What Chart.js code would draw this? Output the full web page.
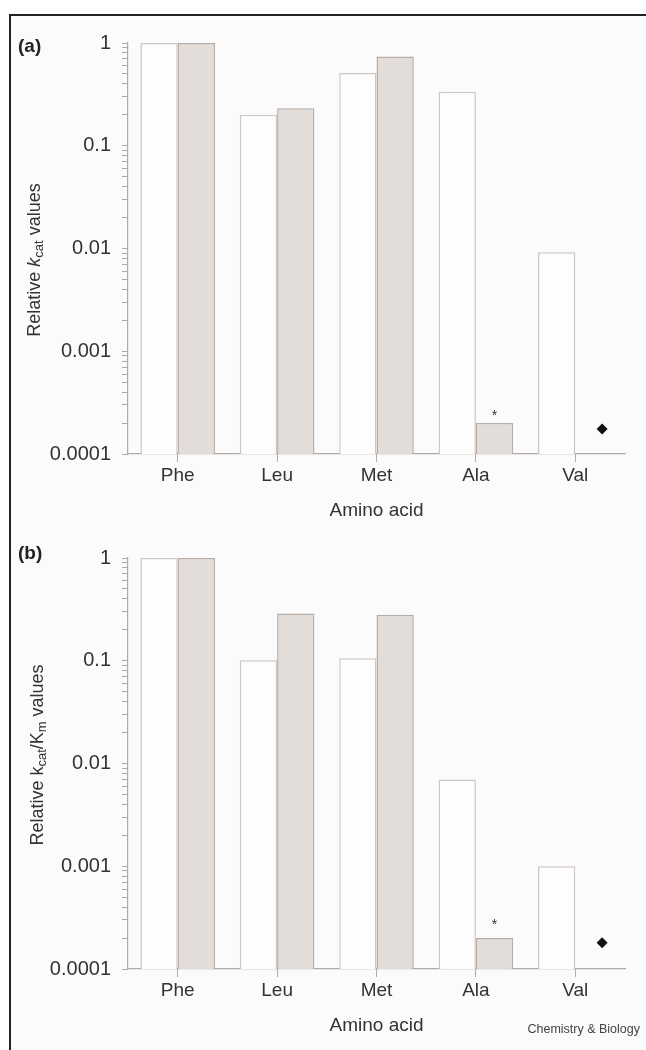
<!DOCTYPE html>
<html>
<head>
<meta charset="utf-8">
<script src="https://cdn.jsdelivr.net/npm/chart.js@4.4.1/dist/chart.umd.min.js"></script>
<style>
html,body{margin:0;padding:0;background:#fff;}
body{width:646px;height:1050px;position:relative;overflow:hidden;font-family:"Liberation Sans",Arial,sans-serif;}
#frame{position:absolute;left:9px;top:14px;width:637px;height:1036px;border-top:2px solid #222;border-left:2px solid #222;background:#fbfbfb;}
canvas{position:absolute;left:0;}
.panel{position:absolute;font-weight:bold;font-size:19px;color:#222;transform:translate(0,-50%);}
.ylab{position:absolute;transform:translate(-50%,-50%) rotate(-90deg);white-space:nowrap;font-size:18px;color:#333;}
.ylab sub{font-size:0.72em;vertical-align:-0.25em;}
.credit{position:absolute;right:6px;top:1022px;font-size:12.5px;color:#444;}
</style>
</head>
<body>
<div id="frame"></div>
<canvas id="chartA" width="646" height="526" style="top:0;width:646px;height:526px"></canvas>
<canvas id="markA" width="646" height="526" style="top:0;width:646px;height:526px"></canvas>
<canvas id="chartB" width="646" height="535" style="top:515px;width:646px;height:535px"></canvas>
<canvas id="markB" width="646" height="535" style="top:515px;width:646px;height:535px"></canvas>
<div class="panel" style="left:18px;top:46px">(a)</div>
<div class="panel" style="left:18px;top:553px">(b)</div>
<div class="ylab" style="left:35px;top:260px">Relative <i>k</i><sub>cat</sub> values</div>
<div class="ylab" style="left:38px;top:755px">Relative k<sub>cat</sub>/K<sub>m</sub> values</div>
<div class="credit">Chemistry &amp; Biology</div>
<script>
// ---- data ----
const categories = ['Phe', 'Leu', 'Met', 'Ala', 'Val'];
const kcatWhite = [1, 0.2, 0.51, 0.335, 0.0092];
const kcatGrey = [1, 0.232, 0.74, 0.0002, null];
const kcatKmWhite = [1, 0.101, 0.106, 0.007, 0.001];
const kcatKmGrey = [1, 0.289, 0.281, 0.0002, null];
const diamondKcat = [{x: 4.27, y: 0.000175}];
const diamondKcatKm = [{x: 4.27, y: 0.00018}];
const yTickValues = [0.0001, 0.001, 0.01, 0.1, 1];
const yTickLabels = ['0.0001', '0.001', '0.01', '0.1', '1'];
const xTitle = 'Amino acid';
const asteriskIndex = 3;

const FONT = '"Liberation Sans", Arial, sans-serif';
const AXIS = '#b3aaa5';

const asteriskPlugin = {
  id: 'asterisk',
  afterDatasetsDraw(chart, args, opts) {
    const bar = chart.getDatasetMeta(1).data[opts.index];
    if (!bar) return;
    const ctx = chart.ctx;
    ctx.save();
    ctx.font = '14px ' + FONT;
    ctx.fillStyle = '#333';
    ctx.textAlign = 'center';
    ctx.textBaseline = 'middle';
    ctx.fillText('*', bar.x, bar.y - opts.gap);
    ctx.restore();
  }
};

function logTicks(s) {
  const t = [];
  for (let e = -4; e <= 0; e++) {
    for (let m = 1; m <= 9; m++) {
      const v = parseFloat((m * Math.pow(10, e)).toPrecision(6));
      if (v <= 1) t.push({value: v});
    }
  }
  s.ticks = t;
}

function buildChart(id, whiteVals, greyVals, padBottom, gap) {
  return new Chart(document.getElementById(id), {
    type: 'bar',
    data: {
      labels: categories,
      datasets: [
        {data: whiteVals, backgroundColor: '#fdfdfd', borderColor: '#d0c7c2', borderWidth: 1.5,
         categoryPercentage: 0.75, barPercentage: 1.0},
        {data: greyVals, backgroundColor: '#e2ddd9', borderColor: '#b7aca6', borderWidth: 1.5,
         categoryPercentage: 0.75, barPercentage: 1.0}
      ]
    },
    options: {
      responsive: false,
      animation: false,
      layout: {padding: {left: 0, top: 43, right: 21, bottom: padBottom}},
      plugins: {legend: {display: false}, tooltip: {enabled: false}, asterisk: {index: asteriskIndex, gap: gap}},
      scales: {
        x: {
          type: 'category',
          offset: true,
          grid: {display: true, offset: false, drawOnChartArea: false, drawTicks: true, tickLength: 8, color: AXIS, tickColor: AXIS},
          border: {display: true, color: AXIS, width: 1.2},
          ticks: {color: '#333', font: {family: FONT, size: 19}, padding: 2},
          title: {display: true, text: xTitle, color: '#333', font: {family: FONT, size: 19}, padding: {top: 0, bottom: 4}},
          afterFit: s => { s.height = 72; }
        },
        y: {
          type: 'logarithmic',
          min: 0.0001, max: 1,
          grid: {display: true, drawOnChartArea: false, drawTicks: true, tickLength: 6, color: AXIS, tickColor: AXIS},
          border: {display: true, color: AXIS, width: 1.2},
          afterBuildTicks: logTicks,
          ticks: {
            autoSkip: false, color: '#333', font: {family: FONT, size: 20}, padding: 11,
            callback: v => {
              const i = yTickValues.findIndex(t => Math.abs(t - v) / t < 1e-6);
              return i >= 0 ? yTickLabels[i] : '';
            }
          },
          afterFit: s => { s.width = 128; }
        }
      }
    },
    plugins: [asteriskPlugin]
  });
}

// overlay scatter chart sharing the same plot area (hidden axes) for the diamond marker
function buildMarker(id, pts, canvasH) {
  return new Chart(document.getElementById(id), {
    type: 'scatter',
    data: {datasets: [{data: pts, pointStyle: 'rectRot', pointRadius: 5.5,
      pointBackgroundColor: '#111', pointBorderColor: '#111', pointBorderWidth: 0}]},
    options: {
      responsive: false,
      animation: false,
      layout: {padding: {left: 128, top: 43, right: 21, bottom: canvasH - 454}},
      plugins: {legend: {display: false}, tooltip: {enabled: false}},
      scales: {
        x: {type: 'linear', display: false, min: -0.5, max: 4.5, offset: false},
        y: {type: 'logarithmic', display: false, min: 0.0001, max: 1}
      }
    }
  });
}

buildChart('chartA', kcatWhite, kcatGrey, 0, 7);
buildMarker('markA', diamondKcat, 526);
buildChart('chartB', kcatKmWhite, kcatKmGrey, 9, 13);
buildMarker('markB', diamondKcatKm, 535);
</script>
</body>
</html>
